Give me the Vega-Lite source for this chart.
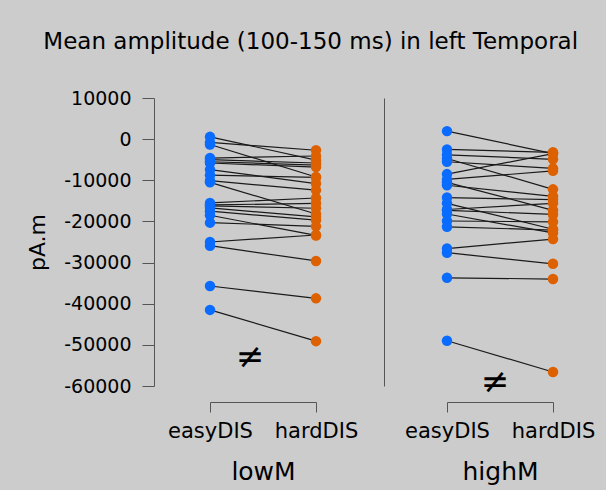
{
  "$schema": "https://vega.github.io/schema/vega-lite/v6.json",
  "background": "#cccccc",
  "padding": {"left": 26, "top": 31, "right": 12, "bottom": 8},
  "title": {"text": "Mean amplitude (100-150 ms) in left Temporal", "font": "DejaVu Sans", "fontSize": 23, "fontWeight": "normal", "color": "#000000", "anchor": "middle", "offset": 35},
  "spacing": 131,
  "bounds": "flush",
  "config": {"view": {"stroke": null}},
  "data": {"values": [
    {"g": "lowM", "s": 1, "c": "easyDIS", "v": 560}, {"g": "lowM", "s": 1, "c": "hardDIS", "v": -5100},
    {"g": "lowM", "s": 2, "c": "easyDIS", "v": -800}, {"g": "lowM", "s": 2, "c": "hardDIS", "v": -2700},
    {"g": "lowM", "s": 3, "c": "easyDIS", "v": -1300}, {"g": "lowM", "s": 3, "c": "hardDIS", "v": -9200},
    {"g": "lowM", "s": 4, "c": "easyDIS", "v": -4600}, {"g": "lowM", "s": 4, "c": "hardDIS", "v": -4100},
    {"g": "lowM", "s": 5, "c": "easyDIS", "v": -5000}, {"g": "lowM", "s": 5, "c": "hardDIS", "v": -5800},
    {"g": "lowM", "s": 6, "c": "easyDIS", "v": -5500}, {"g": "lowM", "s": 6, "c": "hardDIS", "v": -6300},
    {"g": "lowM", "s": 7, "c": "easyDIS", "v": -5800}, {"g": "lowM", "s": 7, "c": "hardDIS", "v": -6800},
    {"g": "lowM", "s": 8, "c": "easyDIS", "v": -7400}, {"g": "lowM", "s": 8, "c": "hardDIS", "v": -10800},
    {"g": "lowM", "s": 9, "c": "easyDIS", "v": -8750}, {"g": "lowM", "s": 9, "c": "hardDIS", "v": -9300},
    {"g": "lowM", "s": 10, "c": "easyDIS", "v": -10100}, {"g": "lowM", "s": 10, "c": "hardDIS", "v": -12400},
    {"g": "lowM", "s": 11, "c": "easyDIS", "v": -10500}, {"g": "lowM", "s": 11, "c": "hardDIS", "v": -18200},
    {"g": "lowM", "s": 12, "c": "easyDIS", "v": -15500}, {"g": "lowM", "s": 12, "c": "hardDIS", "v": -14300},
    {"g": "lowM", "s": 13, "c": "easyDIS", "v": -16000}, {"g": "lowM", "s": 13, "c": "hardDIS", "v": -15600},
    {"g": "lowM", "s": 14, "c": "easyDIS", "v": -16200}, {"g": "lowM", "s": 14, "c": "hardDIS", "v": -16800},
    {"g": "lowM", "s": 15, "c": "easyDIS", "v": -16700}, {"g": "lowM", "s": 15, "c": "hardDIS", "v": -18900},
    {"g": "lowM", "s": 16, "c": "easyDIS", "v": -17500}, {"g": "lowM", "s": 16, "c": "hardDIS", "v": -19700},
    {"g": "lowM", "s": 17, "c": "easyDIS", "v": -18500}, {"g": "lowM", "s": 17, "c": "hardDIS", "v": -23400},
    {"g": "lowM", "s": 18, "c": "easyDIS", "v": -20300}, {"g": "lowM", "s": 18, "c": "hardDIS", "v": -21200},
    {"g": "lowM", "s": 19, "c": "easyDIS", "v": -25000}, {"g": "lowM", "s": 19, "c": "hardDIS", "v": -23300},
    {"g": "lowM", "s": 20, "c": "easyDIS", "v": -25900}, {"g": "lowM", "s": 20, "c": "hardDIS", "v": -29600},
    {"g": "lowM", "s": 21, "c": "easyDIS", "v": -35700}, {"g": "lowM", "s": 21, "c": "hardDIS", "v": -38700},
    {"g": "lowM", "s": 22, "c": "easyDIS", "v": -41500}, {"g": "lowM", "s": 22, "c": "hardDIS", "v": -49100},
    {"g": "highM", "s": 1, "c": "easyDIS", "v": 1950}, {"g": "highM", "s": 1, "c": "hardDIS", "v": -3500},
    {"g": "highM", "s": 2, "c": "easyDIS", "v": -2500}, {"g": "highM", "s": 2, "c": "hardDIS", "v": -3200},
    {"g": "highM", "s": 3, "c": "easyDIS", "v": -3800}, {"g": "highM", "s": 3, "c": "hardDIS", "v": -4900},
    {"g": "highM", "s": 4, "c": "easyDIS", "v": -4700}, {"g": "highM", "s": 4, "c": "hardDIS", "v": -12200},
    {"g": "highM", "s": 5, "c": "easyDIS", "v": -5500}, {"g": "highM", "s": 5, "c": "hardDIS", "v": -7100},
    {"g": "highM", "s": 6, "c": "easyDIS", "v": -8500}, {"g": "highM", "s": 6, "c": "hardDIS", "v": -3500},
    {"g": "highM", "s": 7, "c": "easyDIS", "v": -9800}, {"g": "highM", "s": 7, "c": "hardDIS", "v": -7700},
    {"g": "highM", "s": 8, "c": "easyDIS", "v": -10500}, {"g": "highM", "s": 8, "c": "hardDIS", "v": -17300},
    {"g": "highM", "s": 9, "c": "easyDIS", "v": -11200}, {"g": "highM", "s": 9, "c": "hardDIS", "v": -13900},
    {"g": "highM", "s": 10, "c": "easyDIS", "v": -14200}, {"g": "highM", "s": 10, "c": "hardDIS", "v": -14700},
    {"g": "highM", "s": 11, "c": "easyDIS", "v": -15600}, {"g": "highM", "s": 11, "c": "hardDIS", "v": -21900},
    {"g": "highM", "s": 12, "c": "easyDIS", "v": -17100}, {"g": "highM", "s": 12, "c": "hardDIS", "v": -15600},
    {"g": "highM", "s": 13, "c": "easyDIS", "v": -17300}, {"g": "highM", "s": 13, "c": "hardDIS", "v": -18300},
    {"g": "highM", "s": 14, "c": "easyDIS", "v": -18200}, {"g": "highM", "s": 14, "c": "hardDIS", "v": -22800},
    {"g": "highM", "s": 15, "c": "easyDIS", "v": -19900}, {"g": "highM", "s": 15, "c": "hardDIS", "v": -20100},
    {"g": "highM", "s": 16, "c": "easyDIS", "v": -21300}, {"g": "highM", "s": 16, "c": "hardDIS", "v": -22100},
    {"g": "highM", "s": 17, "c": "easyDIS", "v": -26600}, {"g": "highM", "s": 17, "c": "hardDIS", "v": -24300},
    {"g": "highM", "s": 18, "c": "easyDIS", "v": -27600}, {"g": "highM", "s": 18, "c": "hardDIS", "v": -30300},
    {"g": "highM", "s": 19, "c": "easyDIS", "v": -33700}, {"g": "highM", "s": 19, "c": "hardDIS", "v": -34000},
    {"g": "highM", "s": 20, "c": "easyDIS", "v": -49000}, {"g": "highM", "s": 20, "c": "hardDIS", "v": -56600}
  ]},
  "hconcat": [
    {
      "width": 106,
      "height": 288,
      "layer": [
        {
          "transform": [{"filter": "datum.g === 'lowM'"}],
          "mark": {"type": "line", "color": "#1a1a1a", "strokeWidth": 1.2},
          "encoding": {
            "x": {"field": "c", "type": "nominal", "scale": {"type": "point", "padding": 0, "domain": ["easyDIS", "hardDIS"]},
              "axis": {"title": "lowM", "offset": 16, "labelAngle": 0, "domainColor": "#555555", "tickColor": "#555555", "tickSize": 10, "labelFont": "DejaVu Sans", "labelFontSize": 21, "labelColor": "#000000", "labelPadding": 8, "labelOverlap": false, "titleFont": "DejaVu Sans", "titleFontSize": 25, "titleFontWeight": "normal", "titleColor": "#000000", "titlePadding": 18}},
            "y": {"field": "v", "type": "quantitative", "scale": {"domain": [-60000, 10000], "nice": false, "zero": false},
              "axis": {"title": "pA.m", "offset": 56, "values": [10000, 0, -10000, -20000, -30000, -40000, -50000, -60000], "labelExpr": "toString(datum.value)", "grid": false, "tickSize": 12, "labelPadding": 11, "domainColor": "#555555", "tickColor": "#555555", "labelFont": "DejaVu Sans", "labelFontSize": 19, "labelColor": "#000000", "titleFont": "DejaVu Sans", "titleFontSize": 22, "titleFontWeight": "normal", "titleColor": "#000000", "titlePadding": 14}},
            "detail": {"field": "s", "type": "nominal"}
          }
        },
        {
          "transform": [{"filter": "datum.g === 'lowM'"}],
          "mark": {"type": "circle", "size": 110, "opacity": 1},
          "encoding": {
            "x": {"field": "c", "type": "nominal"},
            "y": {"field": "v", "type": "quantitative"},
            "color": {"field": "c", "type": "nominal", "scale": {"domain": ["easyDIS", "hardDIS"], "range": ["#0a6cff", "#dd6100"]}, "legend": null}
          }
        },
        {
          "data": {"values": [{"v": -53240}]},
          "mark": {"type": "text", "text": "≠", "fontSize": 34, "dx": 40, "color": "#000000", "font": "DejaVu Sans"},
          "encoding": {
            "x": {"datum": "easyDIS", "type": "nominal"},
            "y": {"field": "v", "type": "quantitative"}
          }
        }
      ]
    },
    {
      "width": 106,
      "height": 288,
      "layer": [
        {
          "transform": [{"filter": "datum.g === 'highM'"}],
          "mark": {"type": "line", "color": "#1a1a1a", "strokeWidth": 1.2},
          "encoding": {
            "x": {"field": "c", "type": "nominal", "scale": {"type": "point", "padding": 0, "domain": ["easyDIS", "hardDIS"]},
              "axis": {"title": "highM", "offset": 16, "labelAngle": 0, "domainColor": "#555555", "tickColor": "#555555", "tickSize": 10, "labelFont": "DejaVu Sans", "labelFontSize": 21, "labelColor": "#000000", "labelPadding": 8, "labelOverlap": false, "titleFont": "DejaVu Sans", "titleFontSize": 25, "titleFontWeight": "normal", "titleColor": "#000000", "titlePadding": 18}},
            "y": {"field": "v", "type": "quantitative", "scale": {"domain": [-60000, 10000], "nice": false, "zero": false},
              "axis": {"title": null, "offset": 63, "labels": false, "ticks": false, "grid": false, "domainColor": "#555555"}},
            "detail": {"field": "s", "type": "nominal"}
          }
        },
        {
          "transform": [{"filter": "datum.g === 'highM'"}],
          "mark": {"type": "circle", "size": 110, "opacity": 1},
          "encoding": {
            "x": {"field": "c", "type": "nominal"},
            "y": {"field": "v", "type": "quantitative"},
            "color": {"field": "c", "type": "nominal", "scale": {"domain": ["easyDIS", "hardDIS"], "range": ["#0a6cff", "#dd6100"]}, "legend": null}
          }
        },
        {
          "data": {"values": [{"v": -59300}]},
          "mark": {"type": "text", "text": "≠", "fontSize": 34, "dx": 48, "color": "#000000", "font": "DejaVu Sans"},
          "encoding": {
            "x": {"datum": "easyDIS", "type": "nominal"},
            "y": {"field": "v", "type": "quantitative"}
          }
        }
      ]
    }
  ]
}
